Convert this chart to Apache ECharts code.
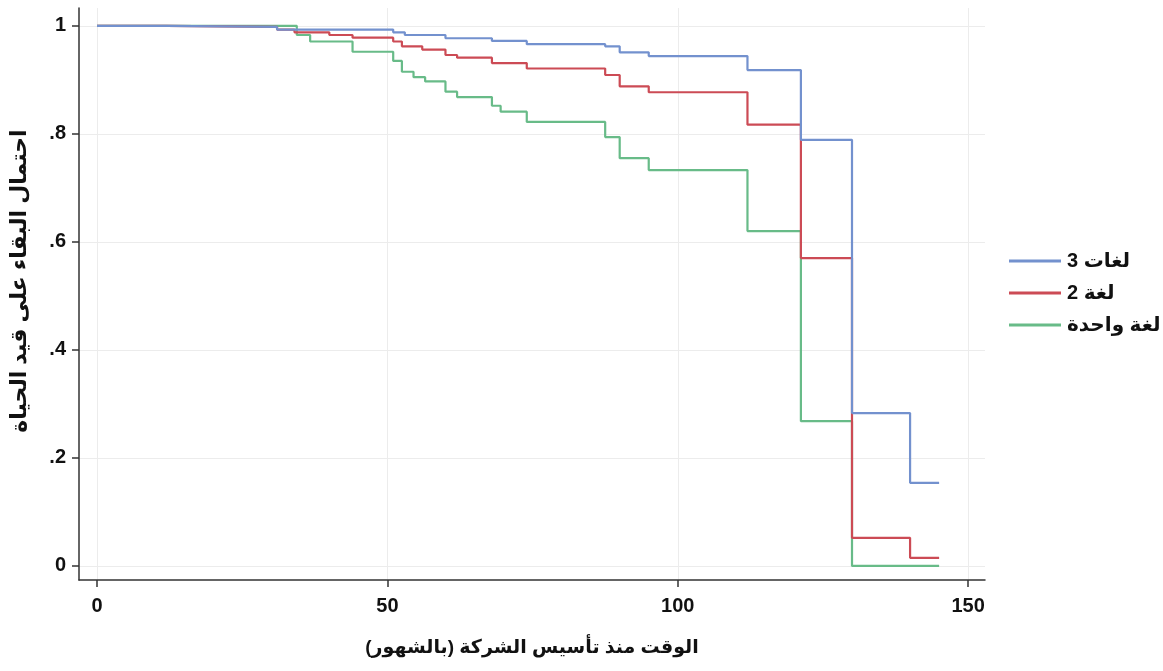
<!DOCTYPE html>
<html>
<head>
<meta charset="utf-8">
<script src="https://cdn.jsdelivr.net/npm/echarts@6/dist/echarts.min.js"></script>
<style>
html,body{margin:0;padding:0;background:#fff;}
#chart{width:1163px;height:671px;}
</style>
</head>
<body>
<div id="chart"></div>
<script>
// Series names (legend)
const seriesNames = ['لغات 3', 'لغة 2', 'لغة واحدة'];
// Kaplan-Meier steps: [time in months, survival probability from that time on]
const threeLang = [[0,1],[12,0.998],[31,0.993],[51,0.988],[53,0.983],[60,0.977],[68,0.972],[74,0.966],[87.5,0.962],[90,0.951],[95,0.944],[112,0.918],[121.2,0.789],[130,0.283],[140,0.154],[145,0.154]];
const twoLang = [[0,1],[12,0.998],[31,0.993],[34,0.988],[40,0.983],[44,0.978],[51,0.971],[52.5,0.962],[56,0.956],[60,0.946],[62,0.941],[68,0.931],[74,0.921],[87.5,0.909],[90,0.888],[95,0.877],[112,0.817],[121.2,0.570],[130,0.052],[140,0.015],[145,0.015]];
const oneLang = [[0,1],[34.4,0.983],[36.7,0.971],[44,0.952],[51,0.935],[52.5,0.915],[54.5,0.905],[56.5,0.897],[60,0.878],[62,0.868],[68,0.852],[69.5,0.841],[74,0.822],[87.5,0.794],[90,0.755],[95,0.733],[112,0.62],[121.2,0.268],[130,0],[145,0]];
// Axis ticks
const xTicks = [0, 50, 100, 150];
const yTicks = [0, 0.2, 0.4, 0.6, 0.8, 1];
const xTitle = '\u200Fالوقت منذ تأسيس الشركة (بالشهور)\u200F';
const yTitle = 'احتمال البقاء على قيد الحياة';

const colors = ['#7391ce', '#cc4b55', '#68bb88'];
const FONT = '"Liberation Sans", "DejaVu Sans", Arial, sans-serif';

const chart = echarts.init(document.getElementById('chart'), null, {renderer: 'canvas'});
const datasets = [threeLang, twoLang, oneLang];

function yFmt(v) {
  if (Math.abs(v) < 1e-9) return '0';
  if (Math.abs(v - 1) < 1e-9) return '1';
  return String(+v.toFixed(1)).replace(/^0/, '');
}

const option = {
  backgroundColor: '#ffffff',
  animation: false,
  grid: {left: 79, right: 178, top: 8, bottom: 91, containLabel: false, outerBoundsMode: 'none'},
  legend: {
    orient: 'vertical',
    left: 1004,
    top: 245,
    itemWidth: 52,
    itemHeight: 3,
    itemGap: 10,
    icon: 'rect',
    data: seriesNames,
    textStyle: {fontFamily: FONT, fontWeight: 'bold', fontSize: 20, color: '#111', lineHeight: 22, padding: [0,0,0,1]}
  },
  xAxis: {
    type: 'value',
    min: -3.1,
    max: 152.9,
    name: xTitle,
    nameLocation: 'middle',
    nameGap: 58,
    nameTextStyle: {fontFamily: FONT, fontWeight: 'bold', fontSize: 19, color: '#111'},
    axisLine: {show: true, onZero: false, lineStyle: {color: '#333', width: 1.5}},
    axisTick: {show: true, length: 7, customValues: xTicks, lineStyle: {color: '#333', width: 1.5}},
    axisLabel: {customValues: xTicks, margin: 16, fontFamily: FONT, fontWeight: 'bold', fontSize: 20, color: '#111'},
    splitLine: {show: true, lineStyle: {color: '#ececec', width: 1}}
  },
  yAxis: {
    type: 'value',
    min: -0.026,
    max: 1.033,
    name: yTitle,
    nameLocation: 'middle',
    nameRotate: 90,
    nameGap: 48,
    nameTextStyle: {fontFamily: FONT, fontWeight: 'bold', fontSize: 22, color: '#111', padding: [0, 0, 0, 26]},
    axisLine: {show: true, onZero: false, lineStyle: {color: '#333', width: 1.5}},
    axisTick: {show: true, length: 7, customValues: yTicks, lineStyle: {color: '#333', width: 1.5}},
    axisLabel: {customValues: yTicks, margin: 13, formatter: yFmt, fontFamily: FONT, fontWeight: 'bold', fontSize: 20, color: '#111'},
    splitLine: {show: true, lineStyle: {color: '#ececec', width: 1}}
  },
  series: datasets.map((d, i) => ({
    name: seriesNames[i],
    type: 'line',
    step: 'end',
    data: d,
    symbol: 'none',
    lineStyle: {color: colors[i], width: 2.2},
    itemStyle: {color: colors[i]},
    z: 3 - i
  }))
};
chart.setOption(option);
</script>
</body>
</html>
